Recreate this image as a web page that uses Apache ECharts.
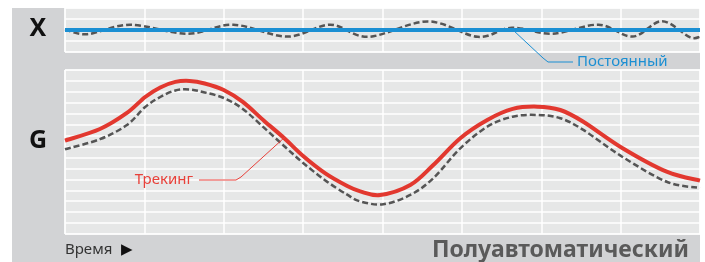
<!DOCTYPE html>
<html>
<head>
<meta charset="utf-8">
<script src="https://cdn.jsdelivr.net/npm/echarts@6/dist/echarts.min.js"></script>
<style>
  html, body { margin: 0; padding: 0; background: #fff; }
  #main { width: 705px; height: 262px; }
</style>
</head>
<body>
<div id="main"></div>
<script>
// время в долях сетки (8 колонок)
var topDashX = [0, 0.28, 0.82, 1.54, 2.12, 2.80, 3.34, 3.82, 4.57, 5.20, 5.63, 6.14, 6.72, 7.15, 7.52, 7.87, 8.0];
var topDashY = [2.06, 1.62, 2.48, 1.66, 2.48, 1.40, 2.48, 1.38, 2.78, 1.38, 2.21, 1.66, 2.48, 1.40, 2.8, 1.36, 1.38];
var constX = [0, 8];
var constY = [2, 2];

var trackX = [0, 0.44, 0.78, 1.01, 1.20, 1.39, 1.57, 1.76, 2.0, 2.24, 2.51, 2.76, 3.0, 3.28, 3.55, 3.72, 3.97, 4.35, 4.64, 4.98, 5.32, 5.64, 5.95, 6.24, 6.53, 7.02, 7.58, 8.0];
var trackY = [8.54, 9.60, 11.07, 12.53, 13.40, 13.91, 14.0, 13.77, 13.17, 12.08, 10.34, 8.78, 7.14, 5.55, 4.42, 3.90, 3.57, 4.48, 6.31, 8.76, 10.43, 11.44, 11.65, 11.34, 10.27, 7.87, 5.70, 4.88];
var gDashX = [0, 0.44, 0.78, 1.01, 1.20, 1.39, 1.57, 1.76, 2.0, 2.24, 2.51, 2.76, 3.0, 3.28, 3.55, 3.72, 4.01, 4.35, 4.64, 4.98, 5.32, 5.64, 5.95, 6.24, 6.53, 7.02, 7.58, 8.0];
var gDashY = [7.75, 8.67, 9.97, 11.62, 12.53, 13.13, 13.22, 12.95, 12.44, 11.44, 9.70, 8.05, 6.50, 4.90, 3.62, 2.98, 2.72, 3.57, 5.10, 7.84, 9.82, 10.73, 10.89, 10.59, 9.52, 7.07, 4.78, 4.21];

function pairs(xs, ys) {
    var out = [];
    for (var i = 0; i < xs.length; i++) out.push([xs[i], ys[i]]);
    return out;
}

// плавная кривая (Catmull-Rom) через точки, пересчитанные осями
function curve(xs, ys, lineStyle) {
    return function (params, api) {
        if (params.dataIndex !== 0) return;
        var p = [];
        for (var i = 0; i < xs.length; i++) p.push(api.coord([xs[i], ys[i]]));
        var n = p.length;
        var d = 'M' + p[0][0] + ' ' + p[0][1];
        for (var j = 0; j < n - 1; j++) {
            var p0 = p[Math.max(j - 1, 0)], p1 = p[j], p2 = p[j + 1], p3 = p[Math.min(j + 2, n - 1)];
            d += ' C' + (p1[0] + (p2[0] - p0[0]) / 6) + ' ' + (p1[1] + (p2[1] - p0[1]) / 6) +
                 ' ' + (p2[0] - (p3[0] - p1[0]) / 6) + ' ' + (p2[1] - (p3[1] - p1[1]) / 6) +
                 ' ' + p2[0] + ' ' + p2[1];
        }
        return { type: 'path', shape: { pathData: d }, style: lineStyle };
    };
}

var myChart = echarts.init(document.getElementById('main'));

var gridStyle = {
    show: true, backgroundColor: '#e6e7e7', borderColor: '#ffffff', borderWidth: 1
};
var splitStyle = { show: true, lineStyle: { color: '#ffffff', width: 1.5 } };
var font = '"Noto Sans", "Open Sans", sans-serif';
var dashStyle = { stroke: '#555', lineWidth: 2.5, fill: null, lineDash: [6, 3] };

function xAx(idx) {
    return { gridIndex: idx, type: 'value', min: 0, max: 8, interval: 1,
        axisLine: { show: false }, axisTick: { show: false }, axisLabel: { show: false },
        splitLine: splitStyle };
}
function yAx(idx, max) {
    return { gridIndex: idx, type: 'value', min: 0, max: max, interval: 1,
        axisLine: { show: false }, axisTick: { show: false }, axisLabel: { show: false },
        splitLine: splitStyle };
}

option = {
    animation: false,
    grid: [
        Object.assign({ left: 65, top: 8, width: 635, height: 44 }, gridStyle),
        Object.assign({ left: 65, top: 70, width: 635, height: 164 }, gridStyle)
    ],
    xAxis: [xAx(0), xAx(1)],
    yAxis: [yAx(0, 4), yAx(1, 15)],
    graphic: [
        { type: 'rect', z: -10, shape: { x: 12, y: 8, width: 688, height: 254 }, style: { fill: '#d2d3d5' } },
        { type: 'text', z: 10, x: 38, y: 29, style: { text: 'X', font: 'bold 25px ' + font, fill: '#111', align: 'center', verticalAlign: 'middle' } },
        { type: 'text', z: 10, x: 38, y: 141, style: { text: 'G', font: 'bold 25px ' + font, fill: '#111', align: 'center', verticalAlign: 'middle' } },
        { type: 'text', z: 10, x: 65, y: 250, style: { text: 'Время', font: '15px ' + font, fill: '#333', verticalAlign: 'middle' } },
        { type: 'text', z: 10, x: 121, y: 250, style: { text: '▶', font: '15px "DejaVu Sans", sans-serif', fill: '#111', verticalAlign: 'middle' } },
        { type: 'text', z: 10, x: 689, y: 250, style: { text: 'Полуавтоматический', font: 'bold 23px ' + font, fill: '#5a5a5a', align: 'right', verticalAlign: 'middle' } },
        { type: 'text', z: 10, x: 577, y: 62, style: { text: 'Постоянный', font: '15px ' + font, fill: '#1b8fd3', verticalAlign: 'middle' } },
        { type: 'polyline', z: 10, shape: { points: [[513, 30], [543, 58], [548, 62], [573, 62]] }, style: { stroke: '#1b8fd3', lineWidth: 1, fill: null } },
        { type: 'text', z: 10, x: 193, y: 180, style: { text: 'Трекинг', font: '15px ' + font, fill: '#e8413a', align: 'right', verticalAlign: 'middle' } },
        { type: 'polyline', z: 10, shape: { points: [[199, 180], [236, 180], [241, 177], [285, 137]] }, style: { stroke: '#e8413a', lineWidth: 1, fill: null } }
    ],
    series: [
        { name: 'Постоянный', type: 'line', xAxisIndex: 0, yAxisIndex: 0, data: pairs(constX, constY),
          symbol: 'none', lineStyle: { color: '#1b8fd3', width: 4 } },
        { name: 'X факт', type: 'custom', xAxisIndex: 0, yAxisIndex: 0, data: pairs(topDashX, topDashY),
          renderItem: curve(topDashX, topDashY, dashStyle), z: 3 },
        { name: 'G факт', type: 'custom', xAxisIndex: 1, yAxisIndex: 1, data: pairs(gDashX, gDashY),
          renderItem: curve(gDashX, gDashY, dashStyle), z: 3 },
        { name: 'Трекинг', type: 'custom', xAxisIndex: 1, yAxisIndex: 1, data: pairs(trackX, trackY),
          renderItem: curve(trackX, trackY, { stroke: '#e2382f', lineWidth: 4, fill: null }), z: 4 }
    ]
};

myChart.setOption(option);
</script>
</body>
</html>
